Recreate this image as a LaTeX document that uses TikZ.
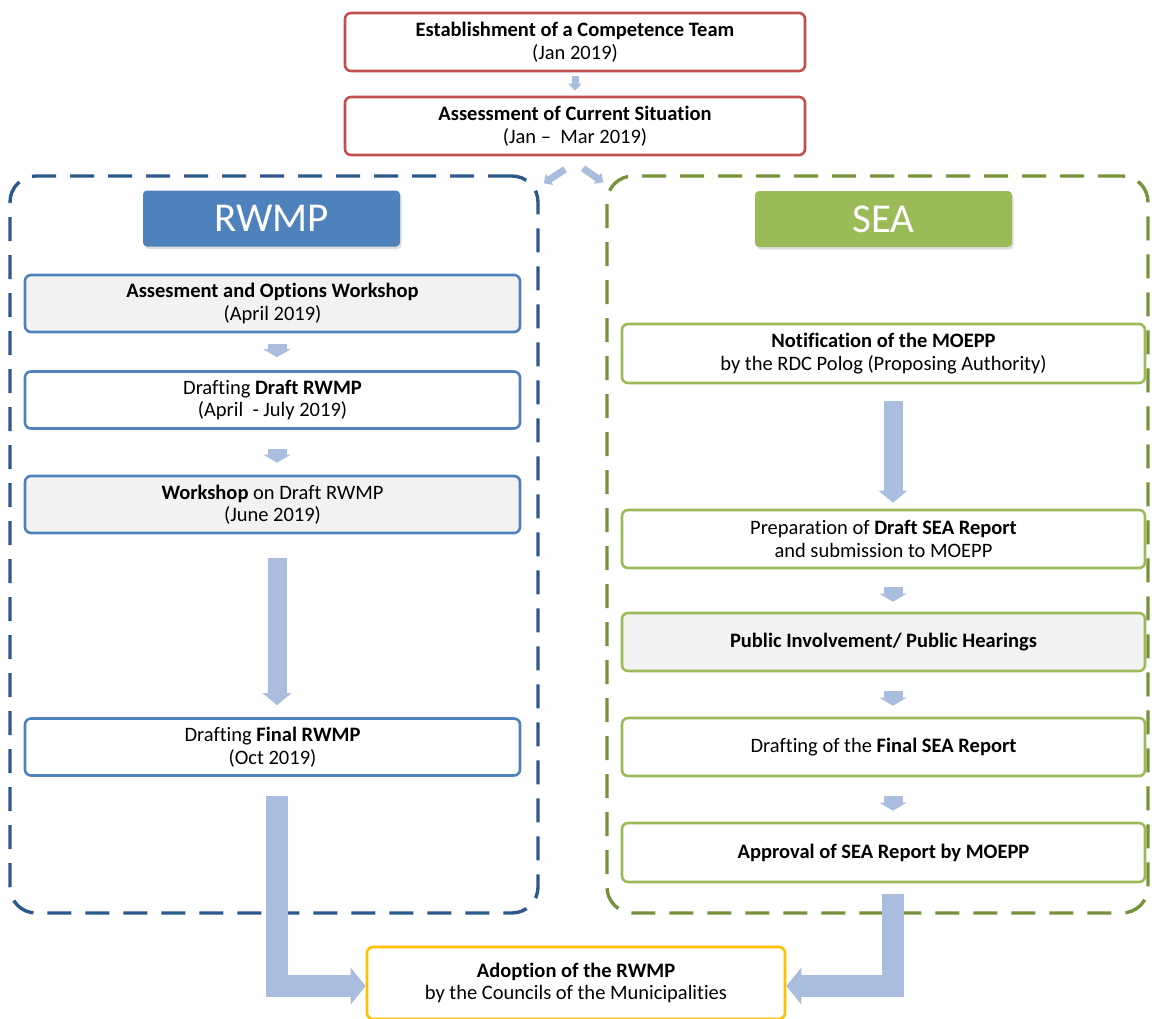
\documentclass[tikz,border=0pt]{standalone}
\usepackage{fontspec}
\setmainfont{Carlito}[Ligatures={NoCommon}]
\usetikzlibrary{arrows.meta,shadows,calc}

\definecolor{redb}{RGB}{192,80,77}
\definecolor{blueb}{RGB}{79,129,189}
\definecolor{greenb}{RGB}{155,187,89}
\definecolor{yellowb}{RGB}{255,192,0}
\definecolor{bluedash}{RGB}{44,88,140}
\definecolor{greendash}{RGB}{118,146,60}
\definecolor{arrowc}{RGB}{170,189,222}
\definecolor{grayfill}{RGB}{242,242,242}

\tikzset{
  box/.style={draw, line width=2.6pt, rounded corners=6pt, align=center,
    inner sep=0pt, fill=white, font=\fontsize{20.5}{22.5}\selectfont},
  redbox/.style={box, draw=redb, minimum width=460pt, minimum height=58pt},
  rwbox/.style={box, draw=blueb, minimum width=495pt, minimum height=57pt},
  seabox/.style={box, draw=greenb, minimum width=523pt, minimum height=58pt},
  grayed/.style={fill=grayfill},
  container/.style={draw, line width=3.4pt, dash pattern=on 24pt off 14pt,
    rounded corners=26pt, inner sep=0pt},
  header/.style={rounded corners=4pt, inner sep=0pt, text=white,
    minimum width=257pt, minimum height=56pt,
    font=\fontsize{41}{46}\selectfont,
    drop shadow={opacity=0.25, shadow xshift=1.5pt, shadow yshift=-2.5pt}},
  flowarrow/.style={draw=arrowc, line width=19pt,
    -{Triangle[width=27pt,length=8pt]}},
  longarrow/.style={draw=arrowc, line width=19pt,
    -{Triangle[width=28pt,length=12pt]}},
  tinyarrow/.style={draw=arrowc, line width=7pt,
    -{Triangle[width=13pt,length=7pt]}},
  bigarrow/.style={draw=arrowc, line width=22pt, line join=miter,
    -{Triangle[width=36pt,length=15pt]}},
}

\begin{document}
\begin{tikzpicture}[x=1pt,y=-1pt]
\useasboundingbox (0,0) rectangle (1156,1018);

% top sequence
\node[redbox] (est) at (575,42) {\textbf{Establishment of a Competence Team}\\(Jan 2019)};
\node[redbox] (ass) at (575,126) {\textbf{Assessment of Current Situation}\\(Jan --\ \ Mar 2019)};

% the two work streams
\node[container, draw=bluedash, minimum width=528pt, minimum height=737pt] (rw) at (274,544.5) {};
\node[container, draw=greendash, minimum width=541pt, minimum height=737pt] (sea) at (877.5,544.5) {};

\node[header, fill=blueb] (rwh) at (271.5,218.5) {RWMP};
\node[header, fill=greenb] (seah) at (883.5,219) {SEA};

% RWMP steps
\node[rwbox, grayed] (r1) at (272.5,303.5) {\textbf{Assesment and Options Workshop}\\(April 2019)};
\node[rwbox] (r2) at (272.5,400) {Drafting \textbf{Draft RWMP}\\(April\ \ - July 2019)};
\node[rwbox, grayed] (r3) at (272.5,504.5) {\textbf{Workshop} on Draft RWMP\\(June 2019)};
\node[rwbox] (r4) at (272.5,747) {Drafting \textbf{Final RWMP}\\(Oct 2019)};

% SEA steps
\node[seabox, minimum height=59pt] (n1) at (883.5,353.5) {\textbf{Notification of the MOEPP}\\by the RDC Polog (Proposing Authority)};
\node[seabox] (n2) at (883.5,539) {Preparation of \textbf{Draft SEA Report}\\ and submission to MOEPP};
\node[seabox, grayed] (n3) at (883.5,642) {\textbf{Public Involvement/ Public Hearings}};
\node[seabox] (n4) at (883.5,747) {Drafting of the \textbf{Final SEA Report}};
\node[seabox, minimum height=59pt] (n5) at (883.5,852.5) {\textbf{Approval of SEA Report by MOEPP}};

% final step
\node[box, draw=yellowb, minimum width=418pt, minimum height=72pt] (ad) at (576,983)
  {\textbf{Adoption of the RWMP}\\by the Councils of the Municipalities};

% arrow axes
\coordinate (ax) at (277,0);
\coordinate (sx) at (893,0);

% connectors
\draw[tinyarrow, shorten <=4pt, shorten >=5pt] (est.south) -- (ass.north);
\draw[tinyarrow] ($(ass.south)+(-10,13)$) -- ($(rw.north east)+(4,9)$);
\draw[tinyarrow] ($(ass.south)+(8,12)$) -- ($(sea.north west)+(-2,8)$);

\draw[flowarrow, shorten <=11pt, shorten >=13pt] (r1.south -| ax) -- (r2.north -| ax);
\draw[flowarrow, shorten <=19pt, shorten >=12pt] (r2.south -| ax) -- (r3.north -| ax);
\draw[longarrow, shorten <=24pt, shorten >=12pt] (r3.south -| ax) -- (r4.north -| ax);

\draw[longarrow, shorten <=17pt, shorten >=6pt] (n1.south -| sx) -- (n2.north -| sx);
\draw[flowarrow, shorten <=18pt, shorten >=10pt] (n2.south -| sx) -- (n3.north -| sx);
\draw[flowarrow, shorten <=19pt, shorten >=11pt] (n3.south -| sx) -- (n4.north -| sx);
\draw[flowarrow, shorten <=19pt, shorten >=11pt] (n4.south -| sx) -- (n5.north -| sx);

\draw[bigarrow] ($(r4.south -| ax)+(0,19)$) |- ([yshift=-3pt]ad.west);
\draw[bigarrow] ($(n5.south -| sx)+(0,11)$) |- ([yshift=-3pt]ad.east);
\end{tikzpicture}
\end{document}
